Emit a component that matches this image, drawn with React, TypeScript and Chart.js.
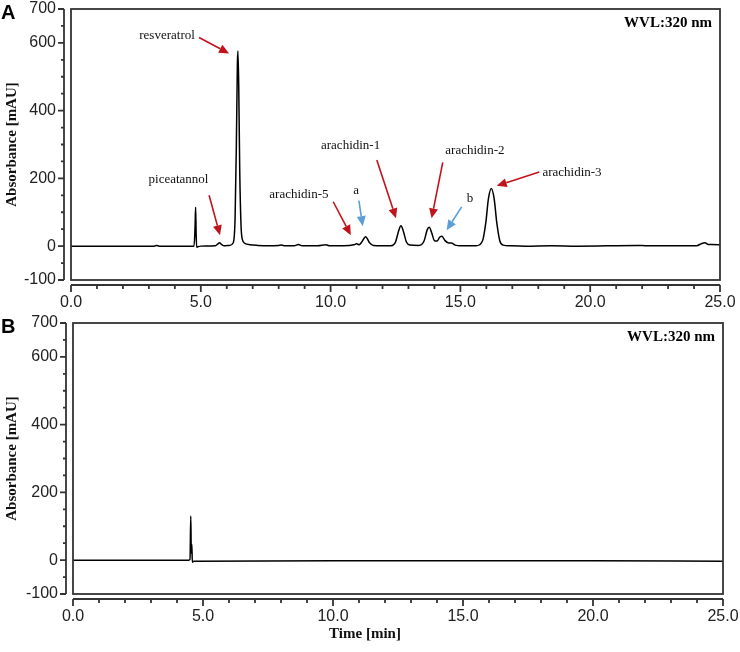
import React, { useEffect, useRef } from "react";
import { Chart, registerables } from "chart.js";

Chart.register(...registerables);

// ---------- data ----------
const A_TIME = [
  0.0, 3.2, 3.3, 3.4, 4.74, 4.78, 4.8, 4.82, 4.84, 4.88, 5.0, 5.55, 5.65, 5.72, 5.8, 5.9,
  6.1, 6.25, 6.32, 6.37, 6.41, 6.43, 6.46, 6.5, 6.55, 6.6, 6.7, 6.9, 7.2, 7.6, 8.0, 8.1,
  8.25, 8.6, 8.76, 8.9, 9.5, 9.82, 9.95, 10.5, 10.9, 11.0, 11.1, 11.2, 11.35, 11.5, 11.65,
  12.3, 12.5, 12.62, 12.71, 12.8, 12.92, 13.05, 13.4, 13.6, 13.72, 13.8, 13.9, 14.0, 14.1,
  14.2, 14.29, 14.4, 14.55, 14.65, 14.8, 15.0, 15.6, 15.85, 15.98, 16.08, 16.19, 16.3, 16.4,
  16.52, 16.65, 16.9, 17.5, 18.5, 19.5, 21.8, 22.2, 24.1, 24.3, 24.42, 24.55, 24.7, 25.0,
];
const A_ABS = [
  0, 0, 2, 0, 0, 60, 115, 40, -3, -2, 0, 1, 6, 10, 5, 1,
  2, 10, 80, 300, 540, 576, 480, 220, 60, 20, 8, 4, 2, 1, 2, 3,
  1, 1, 5, 1, 1, 4, 1, 1, 4, 7, 4, 12, 28, 10, 2,
  1, 12, 45, 60, 45, 12, 3, 2, 15, 48, 56, 38, 16, 15,
  26, 29, 17, 9, 9, 3, 1, 1, 15, 70, 140, 170, 140, 70,
  15, 3, 1, 0, 1, 0, 2, 1, 1, 8, 10, 5, 5, 4,
];
const B_TIME = [0.0, 4.45, 4.5, 4.53, 4.55, 4.57, 4.59, 4.65, 10.0, 20.0, 25.0];
const B_ABS = [0, 0, 2, 130, 20, 47, -6, -3, -2, -2, -3];

const X_LABELED = [0, 5, 10, 15, 20, 25];
const Y_LABELED = [-100, 0, 200, 400, 600, 700];

const A_LABELS = [
  { text: "resveratrol", x: 3.7, y: 622 },
  { text: "piceatannol", x: 4.14, y: 195 },
  { text: "arachidin-5", x: 8.78, y: 153 },
  { text: "a", x: 10.98, y: 163 },
  { text: "arachidin-1", x: 10.77, y: 296 },
  { text: "arachidin-2", x: 15.56, y: 283 },
  { text: "b", x: 15.37, y: 139 },
  { text: "arachidin-3", x: 19.3, y: 217 },
];
const A_ARROWS = [
  { x1: 4.93, y1: 616, x2: 6.09, y2: 569, kind: "red" },
  { x1: 5.32, y1: 150, x2: 5.74, y2: 32, kind: "red" },
  { x1: 10.1, y1: 131, x2: 10.78, y2: 32, kind: "red" },
  { x1: 11.09, y1: 134, x2: 11.24, y2: 59, kind: "blue" },
  { x1: 11.78, y1: 254, x2: 12.52, y2: 82, kind: "red" },
  { x1: 14.32, y1: 247, x2: 13.89, y2: 82, kind: "red" },
  { x1: 15.05, y1: 116, x2: 14.47, y2: 47, kind: "blue" },
  { x1: 18.04, y1: 219, x2: 16.4, y2: 178, kind: "red" },
];

const ARROW_COLORS: Record<string, string> = { red: "#c0141c", blue: "#5b9fd6" };

type PanelCfg = {
  letter: string;
  time: number[];
  abs: number[];
  labels: { text: string; x: number; y: number }[];
  arrows: { x1: number; y1: number; x2: number; y2: number; kind: string }[];
  height: number;
  top: number;
  left: number;
  right: number;
  bottom: number;
  timeTitle: boolean;
};

function makeDeco(cfg: PanelCfg) {
  return {
    id: "deco" + cfg.letter,
    afterDraw(chart: any) {
      const { ctx, chartArea: ca } = chart;
      const xs = chart.scales.x;
      const ys = chart.scales.y;
      ctx.save();
      // frame
      ctx.strokeStyle = "#333";
      ctx.lineWidth = 1.8;
      ctx.strokeRect(ca.left, ca.top, ca.right - ca.left, ca.bottom - ca.top);
      // offset y axis
      ctx.beginPath();
      const ax = ca.left - 7;
      ctx.moveTo(ax, ys.getPixelForValue(700));
      ctx.lineTo(ax, ys.getPixelForValue(-100));
      ys.ticks.forEach((t: any) => {
        const py = ys.getPixelForValue(t.value);
        const len = Y_LABELED.includes(t.value) ? 6 : 3;
        ctx.moveTo(ax - len, py);
        ctx.lineTo(ax, py);
      });
      // offset x axis
      const ay = ca.bottom + 5;
      ctx.moveTo(xs.getPixelForValue(0), ay);
      ctx.lineTo(xs.getPixelForValue(25), ay);
      xs.ticks.forEach((t: any) => {
        const px = xs.getPixelForValue(t.value);
        const len = X_LABELED.includes(t.value) ? 7 : 4;
        ctx.moveTo(px, ay);
        ctx.lineTo(px, ay + len);
      });
      ctx.stroke();

      // panel letter
      ctx.fillStyle = "#000";
      ctx.font = "bold 20px 'Liberation Sans', Arial, sans-serif";
      ctx.textAlign = "left";
      ctx.textBaseline = "middle";
      ctx.fillText(cfg.letter, 1, ca.top + 4);

      // WVL label
      ctx.font = "bold 15px 'Liberation Serif', 'Times New Roman', serif";
      ctx.textAlign = "right";
      ctx.fillText("WVL:320 nm", ca.right - 8, ca.top + 14);

      // annotations
      ctx.font = "13px 'Liberation Serif', 'Times New Roman', serif";
      ctx.textAlign = "center";
      ctx.fillStyle = "#111";
      cfg.labels.forEach((l) => {
        ctx.fillText(l.text, xs.getPixelForValue(l.x), ys.getPixelForValue(l.y));
      });
      cfg.arrows.forEach((a) => {
        const x1 = xs.getPixelForValue(a.x1);
        const y1 = ys.getPixelForValue(a.y1);
        const x2 = xs.getPixelForValue(a.x2);
        const y2 = ys.getPixelForValue(a.y2);
        const ang = Math.atan2(y2 - y1, x2 - x1);
        const hl = 10;
        const hw = 4.5;
        const bx = x2 - hl * Math.cos(ang);
        const by = y2 - hl * Math.sin(ang);
        const col = ARROW_COLORS[a.kind];
        ctx.strokeStyle = col;
        ctx.fillStyle = col;
        ctx.lineWidth = 1.6;
        ctx.beginPath();
        ctx.moveTo(x1, y1);
        ctx.lineTo(bx, by);
        ctx.stroke();
        ctx.beginPath();
        ctx.moveTo(x2, y2);
        ctx.lineTo(bx + hw * Math.sin(ang), by - hw * Math.cos(ang));
        ctx.lineTo(bx - hw * Math.sin(ang), by + hw * Math.cos(ang));
        ctx.closePath();
        ctx.fill();
      });

      if (cfg.timeTitle) {
        ctx.fillStyle = "#111";
        ctx.font = "bold 15px 'Liberation Serif', 'Times New Roman', serif";
        ctx.textAlign = "center";
        ctx.fillText("Time [min]", 365, ca.bottom + 40);
      }
      ctx.restore();
    },
  };
}

function buildChart(canvas: HTMLCanvasElement, cfg: PanelCfg) {
  const tickFont = { family: "'Liberation Sans', Arial, sans-serif", size: 16, lineHeight: 1 };
  return new Chart(canvas, {
    type: "line",
    data: {
      datasets: [
        {
          data: cfg.time.map((t, i) => ({ x: t, y: cfg.abs[i] })),
          borderColor: "#000",
          borderWidth: 1.5,
          pointRadius: 0,
          fill: false,
          cubicInterpolationMode: "monotone",
        },
      ],
    },
    options: {
      responsive: false,
      animation: false,
      events: [],
      layout: { padding: { left: 0, right: 740 - cfg.right, top: cfg.top, bottom: 0 } },
      plugins: { legend: { display: false }, tooltip: { enabled: false } },
      scales: {
        x: {
          type: "linear",
          min: 0,
          max: 25,
          grid: { display: false, drawTicks: false },
          border: { display: false },
          ticks: {
            stepSize: 1,
            autoSkip: false,
            maxRotation: 0,
            padding: 15,
            color: "#222",
            font: tickFont,
            callback: (v: any) => (X_LABELED.includes(Number(v)) ? Number(v).toFixed(1) : ""),
          },
          afterFit: (s: any) => {
            s.height = cfg.height - cfg.bottom;
            s.paddingLeft = 0;
            s.paddingRight = 0;
            s.paddingTop = 0;
            s.paddingBottom = 0;
          },
        },
        y: {
          type: "linear",
          min: -100,
          max: 700,
          grid: { display: false, drawTicks: false },
          border: { display: false },
          ticks: {
            stepSize: 50,
            autoSkip: false,
            padding: 15,
            color: "#222",
            font: tickFont,
            callback: (v: any) => (Y_LABELED.includes(Number(v)) ? String(v) : ""),
          },
          title: {
            display: true,
            text: "Absorbance [mAU]",
            color: "#111",
            font: { family: "'Liberation Serif', 'Times New Roman', serif", size: 15, weight: "bold" },
            padding: { top: 3, bottom: 0 },
          },
          afterFit: (s: any) => {
            s.width = cfg.left;
            s.paddingLeft = 0;
            s.paddingRight = 0;
            s.paddingTop = 0;
            s.paddingBottom = 0;
          },
        },
      },
    },
    plugins: [makeDeco(cfg)],
  } as any);
}

const PANEL_A: PanelCfg = {
  letter: "A",
  time: A_TIME,
  abs: A_ABS,
  labels: A_LABELS,
  arrows: A_ARROWS,
  height: 312,
  top: 9,
  left: 71,
  right: 720,
  bottom: 280,
  timeTitle: false,
};
const PANEL_B: PanelCfg = {
  letter: "B",
  time: B_TIME,
  abs: B_ABS,
  labels: [],
  arrows: [],
  height: 340,
  top: 11,
  left: 73,
  right: 723,
  bottom: 282,
  timeTitle: true,
};

export default function App() {
  const refA = useRef<HTMLCanvasElement>(null);
  const refB = useRef<HTMLCanvasElement>(null);
  useEffect(() => {
    const ca = buildChart(refA.current!, PANEL_A);
    const cb = buildChart(refB.current!, PANEL_B);
    return () => {
      ca.destroy();
      cb.destroy();
    };
  }, []);
  return (
    <div style={{ position: "absolute", left: 0, top: 0, width: 740, height: 652, background: "#fff" }}>
      <canvas ref={refA} width={740} height={312} style={{ position: "absolute", left: 0, top: 0, width: 740, height: 312 }} />
      <canvas ref={refB} width={740} height={340} style={{ position: "absolute", left: 0, top: 312, width: 740, height: 340 }} />
    </div>
  );
}
